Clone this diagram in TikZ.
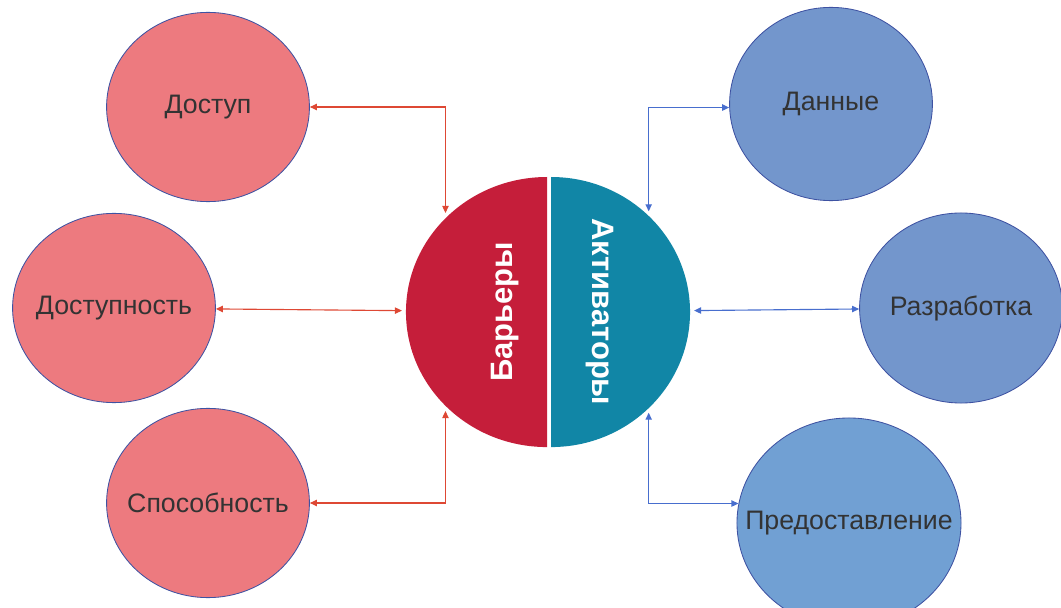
\documentclass[tikz,border=0pt]{standalone}
\usepackage{fontspec}
\setmainfont{Liberation Sans}
\usepackage{tikz}
\usetikzlibrary{shapes.geometric, arrows.meta}

\definecolor{barrierpink}{RGB}{237,122,127}
\definecolor{enablerblue}{RGB}{115,150,204}
\definecolor{deliveryblue}{RGB}{113,160,211}
\definecolor{rimblue}{RGB}{62,82,162}
\definecolor{barrierred}{RGB}{197,30,58}
\definecolor{enablerteal}{RGB}{17,134,166}
\definecolor{redlink}{RGB}{222,72,52}
\definecolor{bluelink}{RGB}{72,110,206}

\begin{document}
\begin{tikzpicture}[x=0.025cm, y=0.025cm]
        % Setup the styles for the bubbles and links
        % (the text sits in a centre label so it never widens the bubble)
        \tikzset{bubble text/.style={text=black!80,
                                font=\fontsize{19}{22}\selectfont},
                 bubble/.style={ellipse,
                                inner sep=0pt,
                                draw=rimblue,
                                line width=0.6pt,
                                label={[bubble text]center:#1}},
                 barrier bubble/.style={bubble=#1, fill=barrierpink,
                                minimum width=5.07cm, minimum height=4.73cm},
                 enabler bubble/.style={bubble=#1, fill=enablerblue,
                                minimum width=5.07cm, minimum height=4.83cm},
                 core text/.style={text=white,
                                font=\bfseries\fontsize{22}{26}\selectfont},
                 link/.style={line width=0.8pt, {Triangle[length=5pt,width=4.5pt]}-{Triangle[length=5pt,width=4.5pt]}}}
        \clip (0,0) rectangle (1061,607);

        % The split circle in the middle
        \node[ellipse, minimum width=7.1cm, minimum height=6.75cm,
              inner sep=0pt, outer sep=0.1cm] at (548,295) (core) {};
        \fill[barrierred] (547,430) arc[start angle=90, end angle=270,
              x radius=3.525cm, y radius=3.375cm] -- cycle;
        \fill[enablerteal] (551,430) arc[start angle=90, end angle=-90,
              x radius=3.475cm, y radius=3.375cm] -- cycle;
        \node[core text, rotate=90]  at (505,295) (barriers) {Барьеры};
        \node[core text, rotate=-90] at (600,295) (enablers) {Активаторы};

        % Draw the bubbles
        \node[barrier bubble=Доступ]      at (208,500) (access) {};
        \node[barrier bubble=Доступность] at (114,299) (availability) {};
        \node[barrier bubble=Способность] at (208,104) (capability) {};
        \node[enabler bubble=Данные]      at (831,503) (data) {};
        \node[enabler bubble=Разработка, minimum height=4.75cm]
              at (961,299) (development) {};
        \node[enabler bubble=Предоставление, fill=deliveryblue,
              minimum width=5.6cm, minimum height=5.25cm] at (849,84) (delivery) {};

        % Connect the bubbles with the circle
        \draw[link, redlink] (access) -| (core.136);
        \draw[link, redlink] (availability) -- (core);
        \draw[link, redlink] (capability) -| (core.224);
        \draw[link, bluelink] (core.45) |- (data.182);
        \draw[link, bluelink] (core) -- (development);
        \draw[link, bluelink] (core.315) |- (delivery.170);
\end{tikzpicture}
\end{document}
